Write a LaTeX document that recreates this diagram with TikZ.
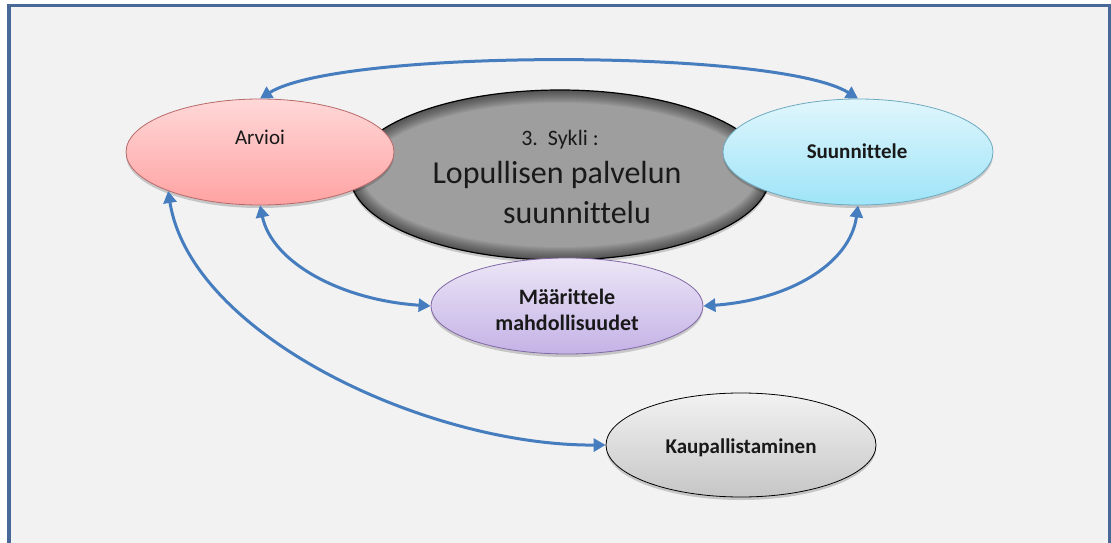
\documentclass[tikz,border=0pt]{standalone}
\usepackage{fontspec}
\setmainfont{Carlito}[Ligatures=NoCommon]
\usetikzlibrary{arrows.meta,shapes.geometric,shadows}

\definecolor{framec}{RGB}{72,104,152}
\definecolor{bgc}{RGB}{242,242,242}
\definecolor{arrowc}{RGB}{70,125,190}
\definecolor{txt}{RGB}{25,25,25}
\definecolor{pinktop}{RGB}{255,216,216}
\definecolor{pinkbot}{RGB}{255,162,162}
\definecolor{pinkline}{RGB}{185,105,105}
\definecolor{cyantop}{RGB}{224,246,252}
\definecolor{cyanbot}{RGB}{158,228,248}
\definecolor{cyanline}{RGB}{110,170,192}
\definecolor{lavtop}{RGB}{236,230,246}
\definecolor{lavbot}{RGB}{196,178,230}
\definecolor{lavline}{RGB}{130,104,166}
\definecolor{greytop}{RGB}{242,242,242}
\definecolor{greybot}{RGB}{198,198,198}
\definecolor{gcore}{RGB}{158,158,158}

\begin{document}
\begin{tikzpicture}[x=1pt,y=1pt,
  bubble/.style={ellipse, inner sep=0pt, line width=0.8pt},
  softshadow/.style={drop shadow={shadow xshift=0pt, shadow yshift=-3pt, opacity=0.18, fill=black}},
  link/.style={arrowc, line width=3pt,
    {Triangle[length=12pt,width=13pt]}-{Triangle[length=12pt,width=13pt]}},
  lbl/.style={anchor=base, inner sep=0pt, text=txt}]

  \clip (0,0) rectangle (1111,542);

  % page and frame
  \fill[white] (0,0) rectangle (1111,542);
  \fill[bgc] (9,-20) rectangle (1110,536.5);
  \draw[framec, line width=3.5pt] (9,-20) rectangle (1110,536.5);

  % central cycle ellipse, with a dark glow along the inside of its rim
  \node[ellipse, inner sep=0pt, minimum width=420pt, minimum height=170pt,
        fill=gcore, softshadow] (cyc) at (560,367) {};
  \begin{scope}
    \clip (cyc.center) ellipse [x radius=210, y radius=85];
    \foreach \w in {26,24,...,2}
      \draw[black, line width=\w pt, opacity=0.045] (cyc.center) ellipse [x radius=210, y radius=85];
  \end{scope}
  \draw[black, line width=1.2pt] (cyc.center) ellipse [x radius=210, y radius=85];

  % activity ellipses
  \node[bubble, minimum width=268pt, minimum height=106pt,
        top color=pinktop, bottom color=pinkbot, draw=pinkline, softshadow] (arv) at (260,390) {};
  \node[bubble, minimum width=270pt, minimum height=106pt,
        top color=cyantop, bottom color=cyanbot, draw=cyanline, softshadow] (suu) at (858,390) {};
  \node[bubble, minimum width=272pt, minimum height=96pt,
        top color=lavtop, bottom color=lavbot, draw=lavline, softshadow] (maa) at (567,236) {};
  \node[bubble, minimum width=270pt, minimum height=104pt,
        top color=greytop, bottom color=greybot, draw=black, softshadow] (kau) at (741,97) {};

  % labels
  \node[lbl, font=\fontsize{21}{25}\selectfont] (tarv) at (260,397) {Arvioi};
  \node[lbl, font=\fontsize{21}{25}\selectfont\bfseries] (tsuu) at (857,383) {Suunnittele};
  \node[lbl, font=\fontsize{22}{26}\selectfont] (tc1) at (560,396) {3.\ \ Sykli :};
  \node[lbl, font=\fontsize{32}{38}\selectfont] (tc2) at (557,359) {Lopullisen palvelun};
  \node[lbl, font=\fontsize{32}{38}\selectfont] (tc3) at (577,319) {suunnittelu};
  \node[lbl, font=\fontsize{22}{26}\selectfont\bfseries] (tm1) at (567,238) {Määrittele};
  \node[lbl, font=\fontsize{22}{26}\selectfont\bfseries] (tm2) at (567,212) {mahdollisuudet};
  \node[lbl, font=\fontsize{21}{25}\selectfont\bfseries] (tkau) at (741,89) {Kaupallistaminen};

  % two-way connectors
  \draw[link] (arv.north) .. controls +(80,50) and +(-80,50) .. (suu.north);
  \draw[link] (arv.south) .. controls +(12,-57) and +(-90,6) .. (maa.west);
  \draw[link] (suu.south) .. controls +(-8,-59) and +(85,6) .. (maa.east);
  \draw[link] (arv.203) .. controls +(23,-145) and +(-177,-1) .. (kau.west);
\end{tikzpicture}
\end{document}
